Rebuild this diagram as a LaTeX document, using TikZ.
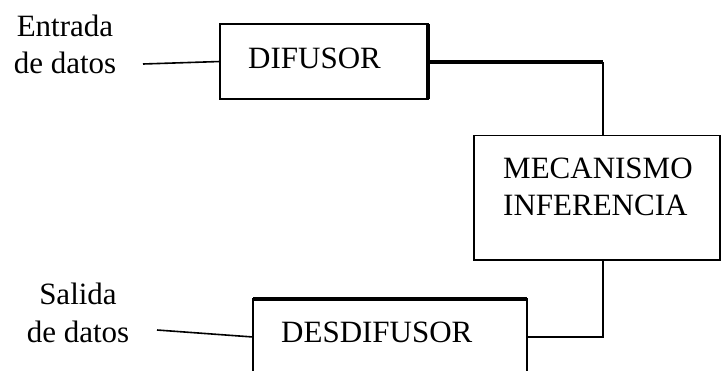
\documentclass[tikz,border=0pt]{standalone}
\usepackage{fontspec}
\setmainfont{Liberation Serif}
\begin{document}
\begin{tikzpicture}[x=1pt,y=-1pt,
  block/.style={draw, line width=1.6pt, inner sep=0pt, outer sep=0pt},
  thinline/.style={line width=1.6pt},
  heavyline/.style={line width=3.4pt},
  txt/.style={inner sep=0pt, font=\fontsize{31}{37}\selectfont}]
\useasboundingbox (0,0) rectangle (722,370);

% blocks
\node[block, minimum width=208pt, minimum height=75pt] (dif) at (324,61.5) {};
\node[block, minimum width=246pt, minimum height=124.5pt] (mec) at (597,197.75) {};
\node[block, minimum width=274pt, minimum height=121pt] (des) at (390,359.5) {};

% block captions
\node[txt, anchor=base west] (tdif) at (248,68) {DIFUSOR};
\node[txt, anchor=base west] (tmec1) at (503,178) {MECANISMO};
\node[txt, anchor=base west] (tmec2) at (503,215) {INFERENCIA};
\node[txt, anchor=base west] (tdes) at (281,342) {DESDIFUSOR};

% input and output labels
\node[txt, anchor=base] (tin1) at (65,36) {Entrada};
\node[txt, anchor=base] (tin2) at (65,73) {de datos};
\node[txt, anchor=base] (tout1) at (78,304) {Salida};
\node[txt, anchor=base] (tout2) at (78,342) {de datos};

% routing points
\coordinate (in) at (143,64);
\coordinate (out) at (157,330);
\coordinate (j1) at (603,62);
\coordinate (j2) at (603,337);

% heavier edges
\draw[heavyline] (dif.north east) -- (dif.south east);
\draw[heavyline] (des.north west) -- (des.north east);

% connectors
\draw[thinline] (in) -- (dif.west);
\draw[heavyline] (dif.east |- j1) -- (j1);
\draw[thinline] (j1) -- (j1 |- mec.north);
\draw[thinline] (mec.south -| j2) -- (j2) -- (j2 -| des.east);
\draw[thinline] (out) -- (des.west |- j2);
\end{tikzpicture}
\end{document}
